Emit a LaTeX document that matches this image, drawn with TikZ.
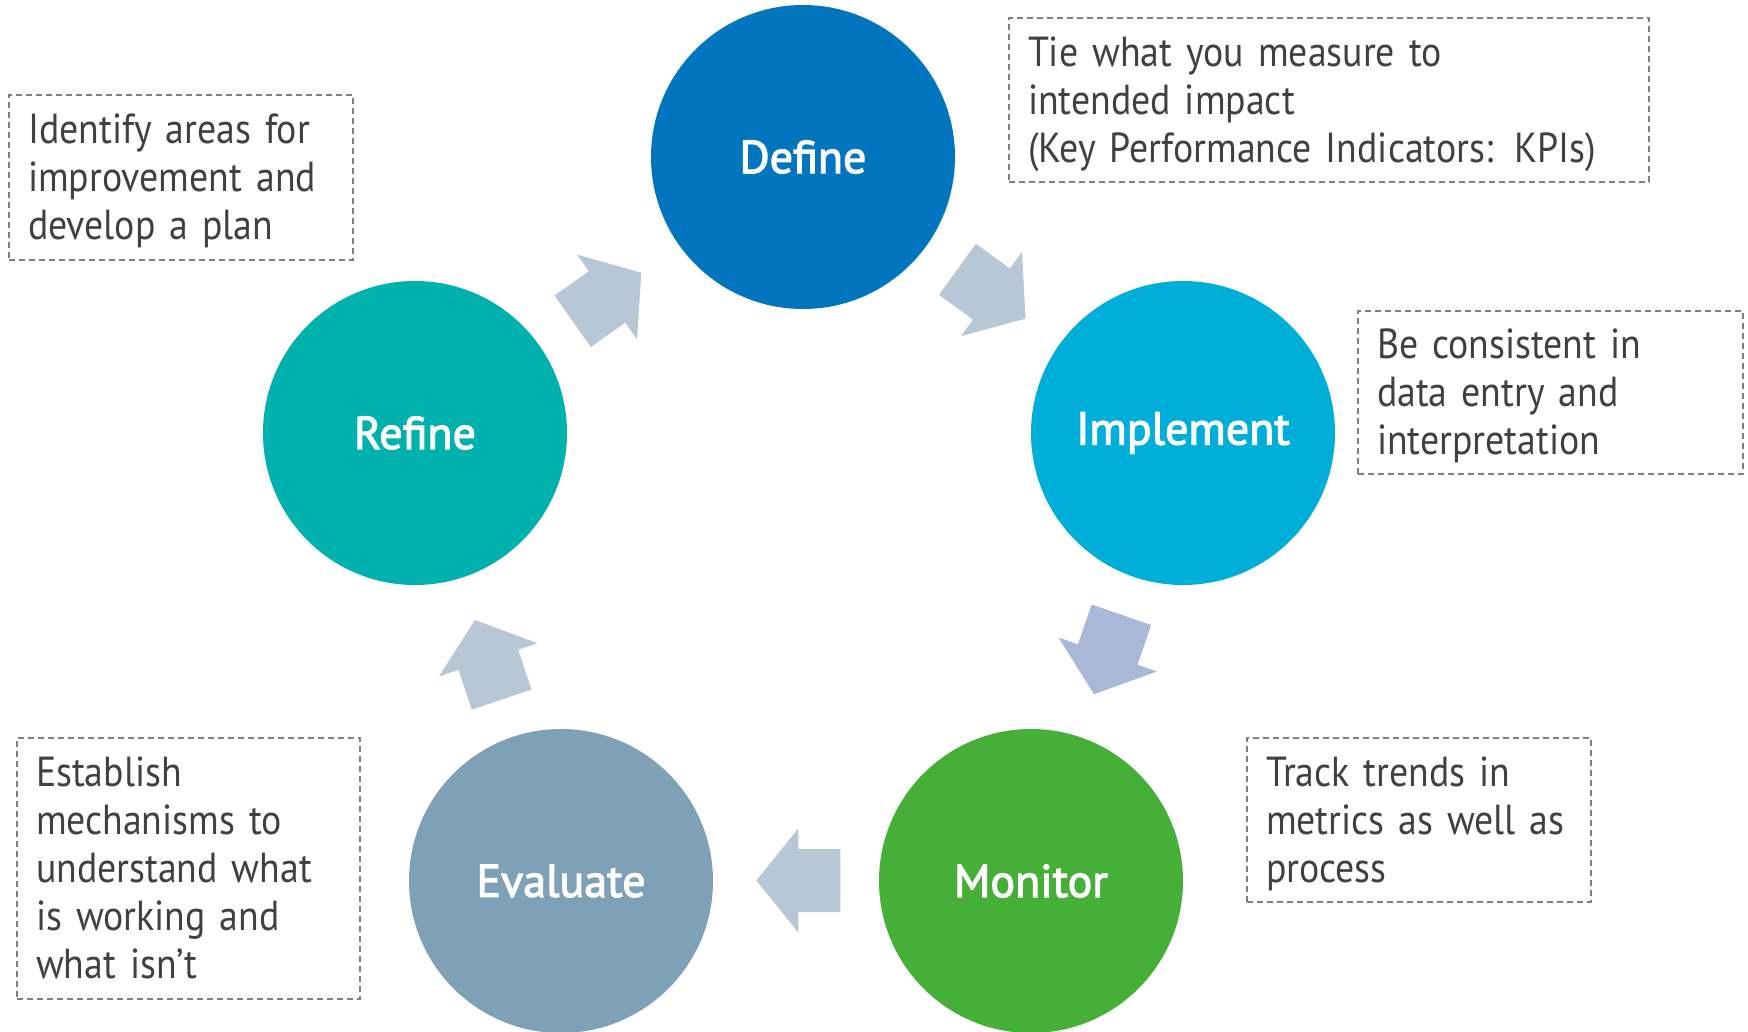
\documentclass[tikz,border=0pt]{standalone}
\usepackage{fontspec}
\setmainfont{PT Sans}[FakeStretch=0.9]
\newfontfamily\labelfont{PT Sans}[FakeBold=2.5]
\definecolor{cDefine}{HTML}{0176BF}
\definecolor{cImpl}{HTML}{00AEDA}
\definecolor{cMonitor}{HTML}{46AF37}
\definecolor{cEval}{HTML}{7FA1B7}
\definecolor{cRefine}{HTML}{00B1AE}
\definecolor{cArrow}{HTML}{B8C7D5}
\definecolor{cArrowB}{HTML}{A9B8D6}
\definecolor{cText}{HTML}{404040}
\definecolor{cDash}{HTML}{7F7F7F}
\newcommand\toprow{\rule{0pt}{40pt}}
\newcommand\botrow{\rule[-12pt]{0pt}{0pt}}
\begin{document}
\begin{tikzpicture}[x=1pt,y=-1pt,
  stagecircle/.style={circle,minimum size=304pt,inner sep=0pt,text=white,
    font=\labelfont\fontsize{46}{48}\selectfont},
  notebox/.style={draw=cDash,dashed,dash pattern=on 6pt off 4pt,line width=2pt,
    anchor=north west,inner xsep=19pt,inner ysep=0pt,align=left,text=cText,
    font=\fontsize{42}{48}\selectfont}]
\useasboundingbox (0,0) rectangle (1748,1031);
% circles
\node[stagecircle,fill=cDefine]  (define) at (803,157) {Define};
\node[stagecircle,fill=cImpl]    (impl)   at (1183,433) {Implement};
\node[stagecircle,fill=cMonitor] (mon)    at (1031,881) {Monitor};
\node[stagecircle,fill=cEval]    (eval)   at (561,881) {Evaluate};
\node[stagecircle,fill=cRefine]  (refine) at (415,433) {Refine};
% note boxes
\node[notebox,minimum width=640pt,minimum height=164pt,text width=602pt] (ndefine) at (1008,17)
  {\toprow Tie what you measure to\\intended impact\\(Key Performance Indicators: KPIs)\botrow};
\node[notebox,minimum width=385pt,minimum height=163pt,text width=347pt] (nimpl) at (1357,310)
  {\toprow Be consistent in\\data entry and\\interpretation\botrow};
\node[notebox,minimum width=344pt,minimum height=164pt,text width=306pt] (nmon) at (1246,737)
  {\toprow Track trends in\\metrics as well as\\process\botrow};
\node[notebox,minimum width=343pt,minimum height=261pt,text width=305pt] (neval) at (16,737)
  {\toprow Establish\\mechanisms to\\understand what\\is working and\\what isn’t\botrow};
\node[notebox,minimum width=344pt,minimum height=165pt,text width=306pt] (nrefine) at (8,94)
  {\toprow Identify areas for\\improvement and\\develop a plan\botrow};
% cycle arrows
\coordinate (a1) at (607,297);
\coordinate (a2) at (991.5,294);
\coordinate (a3) at (1107.7,654.5);
\coordinate (a4) at (798.3,880.5);
\coordinate (a5) at (488.3,659.8);
\foreach \c/\ang/\col in {a1/35.3/cArrow, a2/-35.9/cArrow, a3/-109/cArrowB, a4/180/cArrow, a5/108.6/cArrow}{
  \begin{scope}[shift={(\c)},rotate=\ang]
    \fill[\col] (-42,-31.5) -- (0,-31.5) -- (0,-52) -- (42,0) -- (0,52) -- (0,31.5) -- (-42,31.5) -- cycle;
  \end{scope}
}
\end{tikzpicture}
\end{document}
